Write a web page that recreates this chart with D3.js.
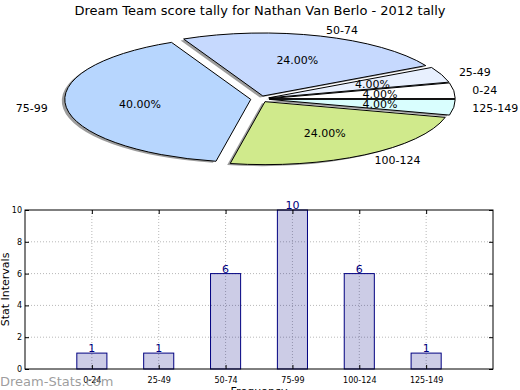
<!DOCTYPE html>
<html>
<head>
<meta charset="utf-8">
<script src="https://cdn.jsdelivr.net/npm/d3@7"></script>
<style>
  body { margin: 0; background: #fff; }
  svg { display: block; font-family: 'DejaVu Sans', sans-serif; }
</style>
</head>
<body>
<script>
// score bands and how many games fell in each
const bands = ['0-24', '25-49', '50-74', '75-99', '100-124', '125-149']
const counts = [1, 1, 6, 10, 6, 1]
const sliceColors = ['#ffffff', '#e8f0fe', '#c6d9fe', '#b7d6fe', '#d0ea8c', '#d9fefe']
const yTicks = [0, 2, 4, 6, 8, 10]
const title = 'Dream Team score tally for Nathan Van Berlo - 2012 tally'

const width = 520
const height = 390

const svg = d3.select('body').append('svg')
  .attr('width', width)
  .attr('height', height)

svg.append('text')
  .attr('x', 260)
  .attr('y', 15)
  .attr('text-anchor', 'middle')
  .attr('font-size', 13)
  .text(title)

// ---- pie (squashed into an ellipse, like the original) ----
const cx = 260
const cy = 99
const rx = 186
const ry = 63
const explode = 0.05
const total = d3.sum(counts)

// start at 3 o'clock and go counter-clockwise
const pie = d3.pie().sort(null).startAngle(Math.PI / 2).endAngle(Math.PI / 2 - 2 * Math.PI)
const arcs = pie(counts)
const unitArc = d3.arc().innerRadius(0).outerRadius(1)

// d3 angle -> usual math angle
const mid = d => Math.PI / 2 - (d.startAngle + d.endAngle) / 2
const off = d => [explode * rx * Math.cos(mid(d)), -explode * ry * Math.sin(mid(d))]

const pieG = svg.append('g')

pieG.selectAll('path.shadow')
  .data(arcs)
  .join('path')
  .attr('class', 'shadow')
  .attr('transform', d => `translate(${cx + off(d)[0] - 3},${cy + off(d)[1] + 1.5}) scale(${rx},${ry})`)
  .attr('d', unitArc)
  .attr('fill', '#3a3a3a')
  .attr('fill-opacity', 0.5)

pieG.selectAll('path.wedge')
  .data(arcs)
  .join('path')
  .attr('class', 'wedge')
  .attr('transform', d => `translate(${cx + off(d)[0]},${cy + off(d)[1]}) scale(${rx},${ry})`)
  .attr('d', unitArc)
  .attr('fill', (d, i) => sliceColors[i])
  .attr('stroke', '#000')
  .attr('stroke-width', 1)
  .attr('vector-effect', 'non-scaling-stroke')
  .attr('stroke-linejoin', 'miter')

pieG.selectAll('text.name')
  .data(arcs)
  .join('text')
  .attr('class', 'name')
  .attr('x', d => cx + (explode + 1.1) * rx * Math.cos(mid(d)))
  .attr('y', d => cy - (explode + 1.1) * ry * Math.sin(mid(d)))
  .attr('dy', '0.35em')
  .attr('text-anchor', d => Math.cos(mid(d)) > 0 ? 'start' : 'end')
  .attr('font-size', 11)
  .text((d, i) => bands[i])

pieG.selectAll('text.pct')
  .data(arcs)
  .join('text')
  .attr('class', 'pct')
  .attr('x', d => cx + (explode + 0.6) * rx * Math.cos(mid(d)))
  .attr('y', d => cy - (explode + 0.6) * ry * Math.sin(mid(d)))
  .attr('dy', '0.35em')
  .attr('text-anchor', 'middle')
  .attr('font-size', 11)
  .text(d => (d.value / total * 100).toFixed(2) + '%')

// ---- bar chart ----
const plotL = 25
const plotR = 493
const plotT = 210
const plotB = 369

const x = d3.scaleLinear().domain([-1, 6]).range([plotL, plotR])
const y = d3.scaleLinear().domain([0, 10]).range([plotB, plotT])
const barW = x(0.45) - x(0)

const barG = svg.append('g')

// dotted grid
barG.selectAll('line.gx')
  .data(bands)
  .join('line')
  .attr('class', 'gx')
  .attr('x1', (d, i) => x(i)).attr('x2', (d, i) => x(i))
  .attr('y1', plotT).attr('y2', plotB)
  .attr('stroke', '#b8b8b8').attr('stroke-dasharray', '1,2')

barG.selectAll('line.gy')
  .data(yTicks.slice(1, -1))
  .join('line')
  .attr('class', 'gy')
  .attr('x1', plotL).attr('x2', plotR)
  .attr('y1', d => y(d)).attr('y2', d => y(d))
  .attr('stroke', '#b8b8b8').attr('stroke-dasharray', '1,2')

barG.selectAll('rect.bar')
  .data(counts)
  .join('rect')
  .attr('class', 'bar')
  .attr('x', (d, i) => x(i) - barW / 2)
  .attr('y', d => y(d))
  .attr('width', barW)
  .attr('height', d => y(0) - y(d))
  .attr('fill', '#000080')
  .attr('fill-opacity', 0.2)
  .attr('stroke', '#000080')
  .attr('stroke-width', 1)

barG.selectAll('text.val')
  .data(counts)
  .join('text')
  .attr('class', 'val')
  .attr('x', (d, i) => x(i))
  .attr('y', d => y(d) - 1)
  .attr('text-anchor', 'middle')
  .attr('font-size', 11)
  .attr('fill', '#000080')
  .text(d => d)

// frame
barG.append('rect')
  .attr('x', plotL).attr('y', plotT)
  .attr('width', plotR - plotL).attr('height', plotB - plotT)
  .attr('fill', 'none').attr('stroke', '#000').attr('stroke-width', 1)

// inward ticks on all four sides
const tickLen = 4
barG.append('g').attr('transform', `translate(0,${plotB})`)
  .call(d3.axisBottom(x).tickValues(d3.range(bands.length)).tickFormat(i => bands[i]).tickSize(-tickLen).tickPadding(8))
  .call(g => g.select('.domain').remove())
  .call(g => g.selectAll('text').attr('font-size', 8).attr('font-family', 'DejaVu Sans').attr('fill', '#000'))
barG.append('g').attr('transform', `translate(0,${plotT})`)
  .call(d3.axisTop(x).tickValues(d3.range(bands.length)).tickFormat('').tickSize(-tickLen))
  .call(g => g.select('.domain').remove())
barG.append('g').attr('transform', `translate(${plotL},0)`)
  .call(d3.axisLeft(y).tickValues(yTicks).tickSize(-tickLen).tickPadding(3))
  .call(g => g.select('.domain').remove())
  .call(g => g.selectAll('text').attr('font-size', 8).attr('font-family', 'DejaVu Sans').attr('fill', '#000'))
barG.append('g').attr('transform', `translate(${plotR},0)`)
  .call(d3.axisRight(y).tickValues(yTicks).tickFormat('').tickSize(-tickLen))
  .call(g => g.select('.domain').remove())

svg.append('text')
  .attr('transform', `translate(9,${(plotT + plotB) / 2}) rotate(-90)`)
  .attr('text-anchor', 'middle')
  .attr('font-size', 11)
  .text('Stat Intervals')

svg.append('text')
  .attr('x', (plotL + plotR) / 2)
  .attr('y', 395)
  .attr('text-anchor', 'middle')
  .attr('font-size', 11)
  .text('Frequency')

// watermark
svg.append('text')
  .attr('x', 0)
  .attr('y', 386)
  .attr('font-size', 13)
  .attr('fill', '#8c8c8c')
  .attr('fill-opacity', 0.85)
  .text('Dream-Stats.com')
</script>
</body>
</html>
